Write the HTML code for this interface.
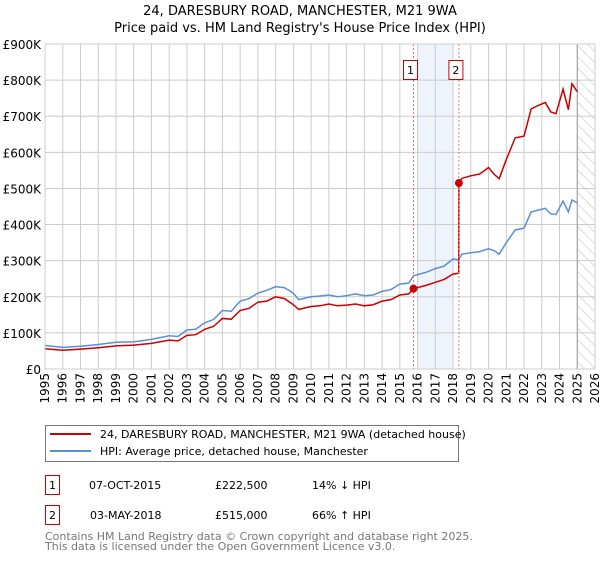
<!DOCTYPE html>
<html><head><meta charset="utf-8"><style>
body{margin:0;background:#fff;font-family:"Liberation Sans","DejaVu Sans",sans-serif;}
svg text{font-family:"DejaVu Sans","Liberation Sans",sans-serif;}
</style></head><body>
<svg width="600" height="560" xmlns="http://www.w3.org/2000/svg" id="chart">
<defs><pattern id="hatch" width="8" height="8" patternUnits="userSpaceOnUse" patternTransform="rotate(-45)"><line x1="0" y1="0" x2="0" y2="8" stroke="#bbb" stroke-width="1"/></pattern></defs>
<text x="300" y="15" text-anchor="middle" font-size="13">24, DARESBURY ROAD, MANCHESTER, M21 9WA</text>
<text x="300" y="32" text-anchor="middle" font-size="13">Price paid vs. HM Land Registry's House Price Index (HPI)</text>
<g id="grid"></g><g id="marks"></g><g id="axes"></g>
<rect x="45.5" y="425.5" width="413" height="36" fill="#fff" stroke="#777"/>
<line x1="50" y1="434" x2="91" y2="434" stroke="#cc0000" stroke-width="2"/>
<text x="100" y="438" font-size="11">24, DARESBURY ROAD, MANCHESTER, M21 9WA (detached house)</text>
<line x1="50" y1="451" x2="91" y2="451" stroke="#5b8fd1" stroke-width="2"/>
<text x="100" y="455" font-size="11">HPI: Average price, detached house, Manchester</text>
<rect x="45.5" y="475.5" width="14" height="19" fill="none" stroke="#cc0000"/>
<text x="52.5" y="489" font-size="11" text-anchor="middle">1</text>
<text x="89" y="489" font-size="11">07-OCT-2015</text>
<text x="215" y="489" font-size="11">£222,500</text>
<text x="312" y="489" font-size="11">14% ↓ HPI</text>
<rect x="45.5" y="505.5" width="14" height="19" fill="none" stroke="#cc0000"/>
<text x="52.5" y="519" font-size="11" text-anchor="middle">2</text>
<text x="90" y="519" font-size="11">03-MAY-2018</text>
<text x="215" y="519" font-size="11">£515,000</text>
<text x="312" y="519" font-size="11">66% ↑ HPI</text>
<text x="45" y="540" font-size="11" fill="#777">Contains HM Land Registry data © Crown copyright and database right 2025.</text>
<text x="45" y="550" font-size="11" fill="#777">This data is licensed under the Open Government Licence v3.0.</text>
</svg>
<script>
const hpiYears=[1995,1996,1997,1998,1999,2000,2001,2002,2002.5,2003,2003.5,2004,2004.5,2005,2005.5,2006,2006.5,2007,2007.5,2008,2008.5,2009,2009.3,2010,2010.5,2011,2011.5,2012,2012.5,2013,2013.5,2014,2014.5,2015,2015.5,2015.77,2016.5,2017,2017.5,2018,2018.3,2018.5,2019,2019.5,2020,2020.3,2020.6,2021,2021.5,2022,2022.4,2022.8,2023.2,2023.5,2023.8,2024.2,2024.5,2024.7,2025];
const hpiValues=[65,60,63,68,74,75,82,92,90,108,110,128,137,162,160,188,195,210,218,228,225,210,192,200,202,205,200,203,208,203,205,215,220,235,238,258,268,278,285,305,302,318,322,325,333,328,318,350,385,390,435,440,445,430,428,465,435,468,460];
const priceYears=[1995,1996,1997,1998,1999,2000,2001,2002,2002.5,2003,2003.5,2004,2004.5,2005,2005.5,2006,2006.5,2007,2007.5,2008,2008.5,2009,2009.3,2010,2010.5,2011,2011.5,2012,2012.5,2013,2013.5,2014,2014.5,2015,2015.5,2015.77,2016.5,2017,2017.5,2018,2018.32,2018.33,2018.5,2019,2019.5,2020,2020.3,2020.6,2021,2021.5,2022,2022.4,2022.8,2023.2,2023.5,2023.8,2024.2,2024.5,2024.7,2025];
const priceValues=[56,52,55,59,64,66,71,80,78,93,95,110,118,140,138,162,168,185,188,200,195,178,165,173,175,180,175,177,180,175,178,188,192,205,208,222.5,232,240,248,263,265,515,528,535,540,558,540,527,580,640,645,720,730,738,712,707,775,718,790,768];
const saleYears=[2015.77,2018.33];
const saleValues=[222.5,515];
const saleLabels=["1","2"];
const yTicks=[0,100,200,300,400,500,600,700,800,900];
const yTickLabels=["£0","£100K","£200K","£300K","£400K","£500K","£600K","£700K","£800K","£900K"];
const xTicks=[1995,1996,1997,1998,1999,2000,2001,2002,2003,2004,2005,2006,2007,2008,2009,2010,2011,2012,2013,2014,2015,2016,2017,2018,2019,2020,2021,2022,2023,2024,2025,2026];
const NS="http://www.w3.org/2000/svg";
const X0=45,X1=595,Y0=369,Y1=44;
const xs=y=>X0+(y-1995)/31*(X1-X0);
const ys=v=>Y0-v/900*(Y0-Y1);
function mk(p,t,a){const e=document.createElementNS(NS,t);for(const k in a)e.setAttribute(k,a[k]);p.appendChild(e);return e;}
const grid=document.getElementById('grid'),marks=document.getElementById('marks'),axes=document.getElementById('axes');
const shade=mk(grid,'rect',{x:xs(2016),y:Y1,width:xs(2018)-xs(2016),height:Y0-Y1,fill:'#eef3fc'});


const hatch=mk(grid,'rect',{x:xs(2025),y:Y1,width:X1-xs(2025),height:Y0-Y1,fill:'url(#hatch)'});


yTicks.forEach((v,i)=>{
  mk(grid,'line',{x1:X0,x2:X1,y1:ys(v),y2:ys(v),stroke:'#ccc'});
  const t=mk(axes,'text',{x:X0-4,y:ys(v)+5,'text-anchor':'end','font-size':'12'});
  t.textContent=yTickLabels[i];
  
  
});
xTicks.forEach(y=>{
  mk(grid,'line',{x1:xs(y),x2:xs(y),y1:Y1,y2:Y0,stroke:'#ccc'});
  const t=mk(axes,'text',{transform:`translate(${xs(y)+4},${Y0+4}) rotate(-90)`,'text-anchor':'end','font-size':'12'});
  t.textContent=y;
  
  
});
mk(grid,'line',{x1:xs(2025),x2:xs(2025),y1:Y1,y2:Y0,stroke:'#999'});
mk(axes,'rect',{x:X0,y:Y1,width:X1-X0,height:Y0-Y1,fill:'none',stroke:'#ccc'});
const hp=mk(marks,'polyline',{points:hpiYears.map((y,i)=>xs(y)+','+ys(hpiValues[i])).join(' '),fill:'none',stroke:'#5b8fd1','stroke-width':'1.5'});


const pp=mk(marks,'polyline',{points:priceYears.map((y,i)=>xs(y)+','+ys(priceValues[i])).join(' '),fill:'none',stroke:'#cc0000','stroke-width':'1.5'});


saleYears.forEach((y,i)=>{
  mk(marks,'line',{x1:xs(y),x2:xs(y),y1:Y1,y2:Y0,stroke:'#f07070','stroke-dasharray':'2,2'});
  const c=mk(marks,'circle',{cx:xs(y),cy:ys(saleValues[i]),r:4,fill:'#cc0000'});
  
  
  const b=mk(marks,'rect',{x:xs(y)-10,y:60.5,width:14,height:19,fill:'#fff',stroke:'#cc0000'});
  
  
  const t=mk(marks,'text',{x:xs(y)-3,y:74,'text-anchor':'middle','font-size':'11'});
  t.textContent=saleLabels[i];
});
</script>
</body></html>
